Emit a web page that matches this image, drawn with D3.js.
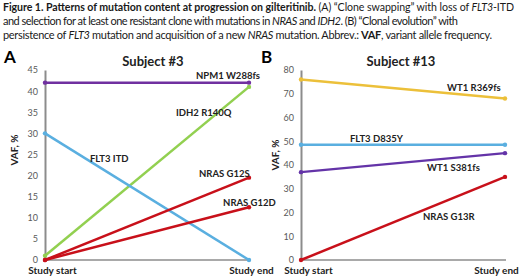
<!DOCTYPE html>
<html>
<head>
<meta charset="utf-8">
<script src="https://cdn.jsdelivr.net/npm/d3@7"></script>
<style>
body { margin: 0; background: #fff; }
svg text { font-family: Lato, "Open Sans", sans-serif; }
</style>
</head>
<body>
<div class="mainView"></div>
<script>
// time points
const timepoints = ["Study start", "Study end"];

// panel A, subject #3
const mutationsA = ["NPM1 W288fs", "IDH2 R140Q", "FLT3 ITD", "NRAS G12S", "NRAS G12D"];
const startA = [42, 1, 30, 0, 0];
const endA = [42, 41, 0, 19.5, 12.5];
const ticksA = [0, 5, 10, 15, 20, 25, 30, 35, 40, 45];

// panel B, subject #13
const mutationsB = ["WT1 R369fs", "FLT3 D835Y", "WT1 S381fs", "NRAS G13R"];
const startB = [76, 48.5, 37, 0];
const endB = [68, 48.5, 45, 35];
const ticksB = [0, 10, 20, 30, 40, 50, 60, 70, 80];

// styles / layout
const colorsA = ["#7030a0", "#92d050", "#5aafe0", "#c8101a", "#c8101a"];
const colorsB = ["#ecc03a", "#5aafe0", "#6434a8", "#c8101a"];
// label anchor: [fraction along x, VAF value]
const labelAtA = [[0.74, 42.9], [0.642, 34.1], [0.22, 23.2], [0.755, 19.7], [0.873, 12.8]];
const labelAtB = [[0.716, 71.2], [0.24, 49.7], [0.618, 37.5], [0.598, 16.8]];

const svg = d3.select(".mainView").append("svg")
    .attr("width", 520).attr("height", 280);

// caption
const caption = svg.append("g").attr("fill", "#1a1a1a");
let l1 = caption.append("text").attr("x", 3).attr("y", 11).style("font-size", "10.6px")
    .attr("textLength", 511).attr("lengthAdjust", "spacing");
l1.append("tspan").style("font-weight", "bold").text("Figure 1. Patterns of mutation content at progression on gilteritinib.");
l1.append("tspan").text(" (A) \u201cClone swapping\u201d with loss of ");
l1.append("tspan").style("font-style", "italic").text("FLT3");
l1.append("tspan").text("-ITD");
let l2 = caption.append("text").attr("x", 3).attr("y", 25).style("font-size", "11px")
    .attr("textLength", 455).attr("lengthAdjust", "spacing");
l2.append("tspan").text("and selection  for at least one resistant clone with mutations in ");
l2.append("tspan").style("font-style", "italic").text("NRAS");
l2.append("tspan").text(" and ");
l2.append("tspan").style("font-style", "italic").text("IDH2");
l2.append("tspan").text(". (B) \u201cClonal evolution\u201d with");
let l3 = caption.append("text").attr("x", 3).attr("y", 39).style("font-size", "11px")
    .attr("textLength", 489).attr("lengthAdjust", "spacing");
l3.append("tspan").text("persistence of ");
l3.append("tspan").style("font-style", "italic").text("FLT3");
l3.append("tspan").text(" mutation and acquisition of a new ");
l3.append("tspan").style("font-style", "italic").text("NRAS");
l3.append("tspan").text(" mutation. Abbrev.: ");
l3.append("tspan").style("font-weight", "bold").text("VAF");
l3.append("tspan").text(", variant allele  frequency.");

function drawPanel(cfg) {
    let xScale = d3.scalePoint().domain(timepoints).range([cfg.x0, cfg.x1]);
    let yScale = d3.scaleLinear().domain([0, cfg.max]).range([260, 70]);
    let g = svg.append("g");

    g.append("text").attr("x", cfg.letterX).attr("y", 63)
        .style("font-size", "17px").style("font-weight", "bold").text(cfg.letter);
    g.append("text").attr("x", cfg.titleX).attr("y", 66).attr("text-anchor", "middle")
        .style("font-size", "13px").style("font-weight", "bold").attr("fill", "#222").text(cfg.title);

    // y axis
    let yAxis = g.append("g").attr("transform", "translate(" + cfg.x0 + ",0)")
        .call(d3.axisLeft(yScale).tickValues(cfg.ticks).tickSize(0).tickPadding(7).tickSizeOuter(0));
    yAxis.select(".domain").attr("stroke", "#8c8c8c").attr("stroke-width", 2);
    yAxis.selectAll("text").attr("fill", "#595959").style("font-size", "9px")
        .style("font-family", "Lato, sans-serif");

    // x axis
    let xAxis = g.append("g").attr("transform", "translate(0,260)")
        .call(d3.axisBottom(xScale).tickSize(0).tickPadding(7).tickSizeOuter(0));
    xAxis.select(".domain").attr("stroke", "#8c8c8c").attr("stroke-width", 1.5)
        .attr("d", "M" + cfg.x0 + ",0H" + (cfg.x1 + 1));
    xAxis.selectAll("text").attr("fill", "#222").style("font-size", "10px")
        .style("font-weight", "bold").style("font-family", "Lato, sans-serif")
        .attr("dx", (d, i) => i == 0 ? 7 : cfg.endDx);

    g.append("text").attr("transform", "translate(" + cfg.vafX + "," + cfg.vafY + ") rotate(-90)")
        .attr("text-anchor", "middle").style("font-size", "10px").style("font-weight", "bold")
        .attr("fill", "#222").text("VAF, %");

    let series = cfg.names.map((n, i) => ({ name: n, values: [cfg.start[i], cfg.end[i]], color: cfg.colors[i], at: cfg.labelAt[i] }));

    let line = d3.line().x((d, i) => xScale(timepoints[i])).y(d => yScale(d));
    g.selectAll("path.series").data(series).enter().append("path")
        .attr("class", "series")
        .attr("d", d => line(d.values))
        .attr("fill", "none").attr("stroke", d => d.color).attr("stroke-width", 2.5);

    series.forEach(s => {
        g.selectAll(null).data(s.values).enter().append("circle")
            .attr("cx", (d, i) => xScale(timepoints[i]))
            .attr("cy", d => yScale(d))
            .attr("r", 2.2).attr("fill", s.color);
    });

    g.selectAll("text.lbl").data(series).enter().append("text")
        .attr("class", "lbl")
        .attr("x", d => cfg.x0 + d.at[0] * (cfg.x1 - cfg.x0))
        .attr("y", d => yScale(d.at[1]))
        .style("font-size", "9.5px").style("font-weight", "bold").attr("fill", "#222")
        .text(d => d.name);
}

drawPanel({ letter: "A", letterX: 4, title: "Subject #3", titleX: 153, x0: 45, x1: 249, max: 45,
    ticks: ticksA, names: mutationsA, start: startA, end: endA, colors: colorsA, labelAt: labelAtA,
    vafX: 18, vafY: 150, endDx: 2 });
drawPanel({ letter: "B", letterX: 261, title: "Subject #13", titleX: 401, x0: 301, x1: 505, max: 80,
    ticks: ticksB, names: mutationsB, start: startB, end: endB, colors: colorsB, labelAt: labelAtB,
    vafX: 279, vafY: 155, endDx: -9 });
</script>
</body>
</html>
